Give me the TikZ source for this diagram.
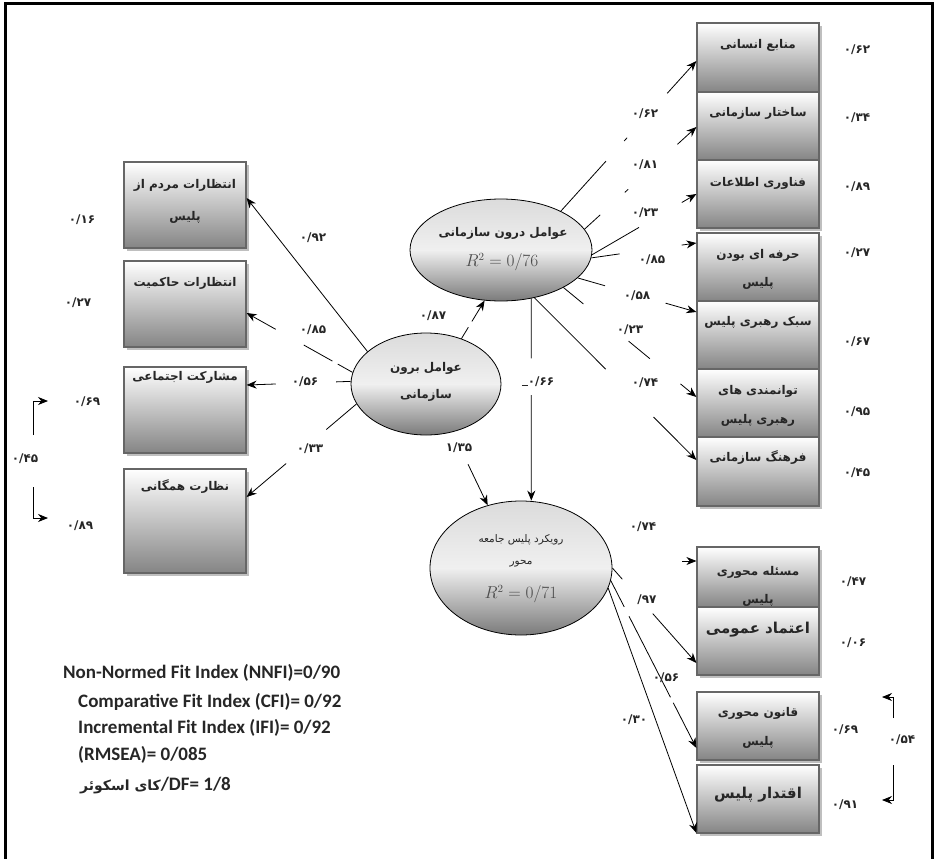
\documentclass[tikz,border=0pt]{standalone}
\usepackage{fontspec}
\setmainfont{Carlito}
\newfontfamily\arabicfont[Script=Arabic]{DejaVu Sans}
\newfontfamily\fitfont{Carlito}
\TeXXeTstate=1
\usetikzlibrary{shapes.geometric,arrows.meta,calc,shadows}
\newcommand\RL[1]{\beginR #1\endR}
\newcommand\piece[4]{\draw[ln] ($(#1)!#3!(#2)$) -- ($(#1)!#4!(#2)$);}
\newcommand\apiece[4]{\draw[arr] ($(#1)!#3!(#2)$) -- ($(#1)!#4!(#2)$);}
\begin{document}
\begin{tikzpicture}[x=1pt,y=-1pt,
  vbox/.style={draw=black!60, line width=1.2pt, top color=white, bottom color=black!48, minimum width=122pt, inner sep=0pt, drop shadow={shadow xshift=3pt, shadow yshift=-3pt, fill=black!25, opacity=1}},
  lat/.style={shape=ellipse, draw=black, line width=0.8pt, top color=black!14, bottom color=black!52, middle color=black!6, inner sep=0pt},
  fa/.style={font=\arabicfont\bfseries\fontsize{12}{14}\selectfont, inner sep=0pt, text=black!85},
  fabig/.style={font=\arabicfont\bfseries\fontsize{15}{17}\selectfont, inner sep=0pt, text=black!85},
  val/.style={font=\arabicfont\bfseries\fontsize{12}{14}\selectfont, inner sep=0pt, text=black!85},
  rsq/.style={font=\fontsize{16}{18}\selectfont, inner sep=0pt, text=black!70},
  ln/.style={line width=0.8pt},
  arr/.style={line width=0.8pt, -{Stealth[length=10pt,width=8pt]}},
  fitt/.style={font=\fitfont\bfseries\fontsize{19}{22}\selectfont, anchor=west, inner sep=0pt, text=black!85}
]
\useasboundingbox (0,0) rectangle (937,859);
\draw[line width=3pt] (5.5,859) -- (5.5,4) -- (932,4) -- (932,859);

% ---------- right boxes (internal factors)
\node[vbox, minimum height=69pt] (R1) at (758,57.5) {};
\node[vbox, minimum height=68pt] (R2) at (758,126) {};
\node[vbox, minimum height=68pt] (R3) at (758,194) {};
\node[vbox, minimum height=68pt] (R4) at (758,267) {};
\node[vbox, minimum height=68pt] (R5) at (758,335) {};
\node[vbox, minimum height=68pt] (R6) at (758,403) {};
\node[vbox, minimum height=69pt] (R7) at (758,471.5) {};
\node[fa] (tR1) at (758,45) {\RL{منابع انسانی}};
\node[fa] (tR2) at (758,113) {\RL{ساختار سازمانی}};
\node[fa] (tR3) at (758,183) {\RL{فناوری اطلاعات}};
\node[fa] (tR4a) at (758,255) {\RL{حرفه ای بودن}};
\node[fa] (tR4b) at (758,283) {\RL{پلیس}};
\node[fa] (tR5) at (758,322) {\RL{سبک رهبری پلیس}};
\node[fa] (tR6a) at (758,391) {\RL{توانمندی های}};
\node[fa] (tR6b) at (758,420) {\RL{رهبری پلیس}};
\node[fa] (tR7) at (758,458) {\RL{فرهنگ سازمانی}};

% ---------- left boxes (external factors)
\node[vbox, minimum height=86pt] (L1) at (185,205) {};
\node[vbox, minimum height=86pt] (L2) at (185,304) {};
\node[vbox, minimum height=86pt] (L3) at (185,410) {};
\node[vbox, minimum height=104pt] (L4) at (185,521) {};
\node[fa] (tL1a) at (185,185) {\RL{انتظارات مردم از}};
\node[fa] (tL1b) at (185,217) {\RL{پلیس}};
\node[fa] (tL2) at (185,283) {\RL{انتظارات حاکمیت}};
\node[fa] (tL3) at (185,377) {\RL{مشارکت اجتماعی}};
\node[fa] (tL4) at (185,487) {\RL{نظارت همگانی}};

% ---------- bottom right boxes
\node[vbox, minimum height=60pt] (M1) at (758,577) {};
\node[vbox, minimum height=68pt] (M2) at (758,641) {};
\node[vbox, minimum height=68pt] (M3) at (758,726) {};
\node[vbox, minimum height=68pt] (M4) at (758,799) {};
\node[fa] (tM1a) at (758,572) {\RL{مسئله محوری}};
\node[fa] (tM1b) at (758,600) {\RL{پلیس}};
\node[fabig] (tM2) at (758,630) {\RL{اعتماد عمومی}};
\node[fa] (tM3a) at (758,713) {\RL{قانون محوری}};
\node[fa] (tM3b) at (758,742) {\RL{پلیس}};
\node[fabig] (tM4) at (758,795) {\RL{اقتدار پلیس}};

% ---------- latent ellipses
\node[lat, minimum width=182pt, minimum height=102pt] (I) at (501,250) {};
\node[lat, minimum width=150pt, minimum height=102pt] (X) at (426,384) {};
\node[lat, minimum width=182pt, minimum height=134pt] (C) at (521,568) {};
\node[fa] (tIa) at (503,233) {\RL{عوامل درون سازمانی}};
\node[rsq] (tIb) at (502,262) {$R^2=0/76$};
\node[fa] (tXa) at (426,368) {\RL{عوامل برون}};
\node[fa] (tXb) at (426,395) {\RL{سازمانی}};
\node[fa, font=\arabicfont\fontsize{10.5}{12}\selectfont] (tCa) at (521,540) {\RL{رویکرد پلیس جامعه}};
\node[fa, font=\arabicfont\fontsize{10.5}{12}\selectfont] (tCb) at (521,564) {\RL{محور}};
\node[rsq] (tCc) at (521,594) {$R^2=0/71$};

% ---------- connector end points
\coordinate (a1) at (I.33);  \coordinate (b1) at ($(R1.west)+(0,3.5)$);
\coordinate (a2) at (I.14);  \coordinate (b2) at ($(R2.west)+(0,1)$);
\coordinate (a3) at (I.-3);  \coordinate (b3) at (R3.west);
\coordinate (a4) at (I.-5);  \coordinate (b4) at ($(R4.west)+(0,-24)$);
\coordinate (a5) at (I.-20); \coordinate (b5) at ($(R5.west)+(0,-23)$);
\coordinate (a6) at (I.-31); \coordinate (b6) at ($(R6.west)+(0,-6)$);
\coordinate (a7) at (I.-55); \coordinate (b7) at ($(R7.west)+(0,-11.5)$);
\coordinate (av) at (I.-58); \coordinate (bv) at (I.-58 |- C.north);

\coordinate (x1) at (X.151); \coordinate (y1) at ($(L1.east)+(0,-7)$);
\coordinate (x2) at (X.171); \coordinate (y2) at ($(L2.east)+(0,9)$);
\coordinate (x3) at (X.178.5); \coordinate (y3) at ($(L3.east)+(0,-25)$);
\coordinate (x4) at (X.196.5); \coordinate (y4) at ($(L4.east)+(0,-24)$);
\coordinate (xi) at (X.52);  \coordinate (yi) at (I.-108);
\coordinate (xc) at (X.-61.6); \coordinate (yc) at (C.118);

\coordinate (c2) at (C.0);   \coordinate (d2) at ($(M2.west)+(0,22)$);
\coordinate (c3) at (C.-8);  \coordinate (d3) at ($(M3.west)+(0,22)$);
\coordinate (c4) at (C.-13); \coordinate (d4) at ($(M4.west)+(0,34)$);
\coordinate (c1) at ($(M1.west)+(-14,-16)$); \coordinate (d1) at ($(M1.west)+(0,-16)$);

% ---------- internal -> indicators
\piece{a1}{b1}{0}{0.333} \piece{a1}{b1}{0.467}{0.489} \apiece{a1}{b1}{0.785}{1}
\piece{a2}{b2}{0}{0.14} \piece{a2}{b2}{0.36}{0.39} \apiece{a2}{b2}{0.83}{1}
\piece{a3}{b3}{0}{0.45} \apiece{a3}{b3}{0.86}{1}
\piece{a4}{b4}{0}{0.27} \apiece{a4}{b4}{0.86}{1}
\piece{a5}{b5}{0}{0.23} \apiece{a5}{b5}{0.74}{1}
\piece{a6}{b6}{0}{0.15} \piece{a6}{b6}{0.49}{0.65} \apiece{a6}{b6}{0.88}{1}
\piece{a7}{b7}{0}{0.44} \apiece{a7}{b7}{0.735}{1}
\piece{av}{bv}{0}{0.296} \apiece{av}{bv}{0.478}{1}

% ---------- external -> indicators
\draw[arr] (x1) -- (y1);
\piece{x2}{y2}{0}{0.14} \piece{x2}{y2}{0.19}{0.46} \apiece{x2}{y2}{0.726}{1}
\piece{x3}{y3}{0}{0.14} \apiece{x3}{y3}{0.72}{1}
\piece{x4}{y4}{0}{0.275} \apiece{x4}{y4}{0.64}{1}
\piece{xi}{yi}{0}{0.3} \apiece{xi}{yi}{0.45}{1}
\apiece{xc}{yc}{0.44}{1}

% ---------- community -> indicators
\draw[arr] (c1) -- (d1);
\piece{c2}{d2}{0}{0.118} \apiece{c2}{d2}{0.48}{1}
\piece{c3}{d3}{0}{0.157} \piece{c3}{d3}{0.213}{0.697} \apiece{c3}{d3}{0.73}{1}
\draw[arr] (c4) -- (d4);

% ---------- correlation brackets
\coordinate (lb1) at (33,435); \coordinate (lt1) at (48,401);
\coordinate (lb2) at (33,487); \coordinate (lt2) at (48,518);
\draw[arr] (lb1) |- (lt1);
\draw[arr] (lb2) |- (lt2);
\coordinate (rb1) at (893,718); \coordinate (rt1) at (882,697);
\coordinate (rb2) at (893,765); \coordinate (rt2) at (882,800);
\draw[arr] (rb1) |- (rt1);
\draw[arr] (rb2) |- (rt2);

% ---------- values
\node[val] (v1) at (82,220) {۰/۱۶};
\node[val] (v2) at (78,303) {۰/۲۷};
\node[val] (v3) at (87,402) {۰/۶۹};
\node[val] (v4) at (80,526) {۰/۸۹};
\node[val] (v5) at (25,459) {۰/۴۵};
\node[val] (p1) at (313,238) {۰/۹۲};
\node[val] (p2) at (313,330) {۰/۸۵};
\node[val] (p3) at (305,382) {۰/۵۶};
\node[val] (p4) at (310,449) {۰/۳۳};
\node[val] (p5) at (433,316) {۰/۸۷};
\node[val] (p6) at (459,448) {۱/۳۵};
\node[val] (p7) at (538,382) {\rule{6pt}{1.3pt}\hbox{۰/۶۶}};
\node[val] (q1) at (645,114) {۰/۶۲};
\node[val] (q2) at (645,165) {۰/۸۱};
\node[val] (q3) at (645,213) {۰/۲۳};
\node[val] (q4) at (652,260) {۰/۸۵};
\node[val] (q5) at (637,296) {۰/۵۸};
\node[val] (q6) at (630,330) {۰/۲۳};
\node[val] (q7) at (645,383) {۰/۷۴};
\node[val] (e1) at (857,50) {۰/۶۲};
\node[val] (e2) at (857,118) {۰/۳۴};
\node[val] (e3) at (857,187) {۰/۸۹};
\node[val] (e4) at (857,253) {۰/۲۷};
\node[val] (e5) at (857,342) {۰/۶۷};
\node[val] (e6) at (857,412) {۰/۹۵};
\node[val] (e7) at (857,473) {۰/۴۵};
\node[val] (s1) at (643,527) {۰/۷۴};
\node[val] (s2) at (647,600) {\hbox{/}\hbox{۹۷}};
\node[val] (s3) at (666,678) {۰/۵۶};
\node[val] (s4) at (634,720) {۰/۳۰};
\node[val] (f1) at (853,582) {۰/۴۷};
\node[val] (f2) at (853,643) {۰/۰۶};
\node[val] (f3) at (845,730) {۰/۶۹};
\node[val] (f4) at (845,805) {۰/۹۱};
\node[val] (f5) at (902,740) {۰/۵۴};

% ---------- fit indices
\node[fitt] (g1) at (63,673) {Non-Normed Fit Index (NNFI)=0/90};
\node[fitt] (g2) at (78,702) {Comparative Fit Index (CFI)= 0/92};
\node[fitt] (g3) at (78,728) {Incremental Fit Index (IFI)= 0/92};
\node[fitt] (g4) at (78,755) {(RMSEA)= 0/085};
\node[fitt] (g5) at (80,786) {{\arabicfont\bfseries\fontsize{14}{16}\selectfont\RL{کای اسکوئر}}/DF= 1/8};
\end{tikzpicture}
\end{document}
